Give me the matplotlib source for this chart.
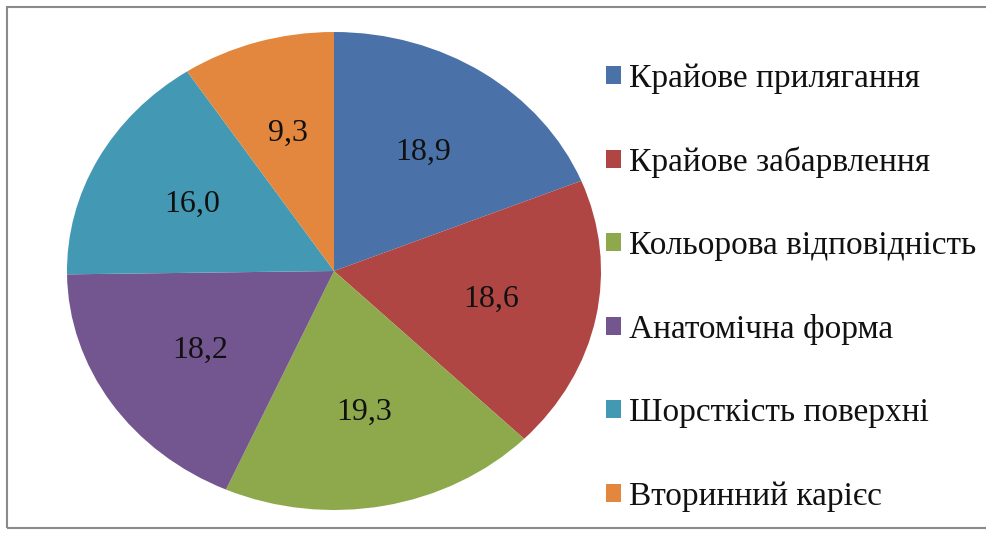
import matplotlib
matplotlib.use("Agg")
import matplotlib.pyplot as plt
from matplotlib.patches import Rectangle

# дані діаграми
categories = [
    "Крайове прилягання",
    "Крайове забарвлення",
    "Кольорова відповідність",
    "Анатомічна форма",
    "Шорсткість поверхні",
    "Вторинний карієс",
]
values = [18.9, 18.6, 19.3, 18.2, 16.0, 9.3]
colors = ["#4A72A8", "#B04643", "#8EA84C", "#735590", "#4399B4", "#E2873D"]

plt.rcParams["font.family"] = ["Liberation Serif", "DejaVu Serif"]

W, H = 987, 533
fig = plt.figure(figsize=(W / 100, H / 100), dpi=100)
fig.patch.set_facecolor("white")

# вісь розтягнута по горизонталі -> еліптичний пиріг, як в оригіналі
ax = fig.add_axes([67 / W, (H - 510) / H, 534 / W, 478 / H])
total = sum(values)
wedges, _, autotexts = ax.pie(
    values,
    colors=colors,
    startangle=90,
    counterclock=False,
    autopct=lambda p: f"{p * total / 100:.1f}".replace(".", ","),
    pctdistance=0.6,
    wedgeprops=dict(linewidth=0),
    textprops=dict(fontsize=23, color="#111111"),
)
ax.set_aspect("auto")
ax.set_xlim(-1, 1)
ax.set_ylim(-1, 1)
ax.axis("off")

leg = fig.legend(
    wedges, categories,
    loc="upper left", bbox_to_anchor=(606 / W, 1 - 63 / H),
    frameon=False, fontsize=24,
    handlelength=0.45, handleheight=0.45, handletextpad=0.25,
    labelspacing=1.585, borderaxespad=0, borderpad=0,
)
for t in leg.get_texts():
    t.set_color("#111111")

# рамка області діаграми
fig.patches.append(Rectangle((7 / W, 1 - 528 / H), 990 / W, 521 / H,
                             transform=fig.transFigure, fill=False,
                             edgecolor="#8a8a8a", linewidth=1.5))

fig.savefig("out.png", dpi=100)
